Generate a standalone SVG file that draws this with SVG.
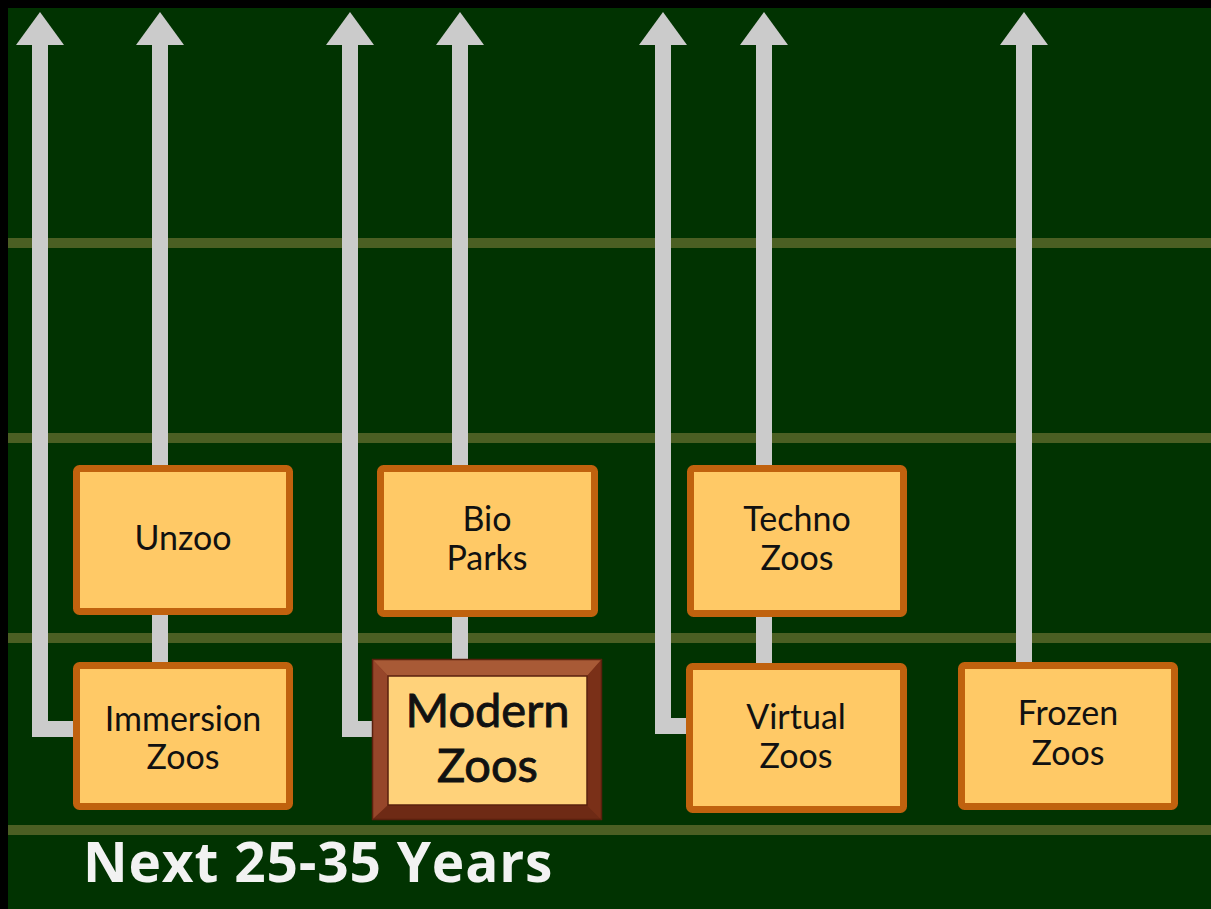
<svg xmlns="http://www.w3.org/2000/svg" width="1211" height="909" viewBox="0 0 1211 909">
  <defs>
    <style>
      .band { fill: #4b5f23; }
      .conn { fill: none; stroke: #cbcbcb; stroke-width: 16; stroke-linejoin: miter; stroke-linecap: butt; }
      .box { fill: #ffc966; stroke: #c0620e; stroke-width: 7; }
      .lbl { font-family: Lato, "Open Sans", "Liberation Sans", sans-serif; font-size: 34px; fill: #111111; text-anchor: middle; }
      .big { font-size: 47px; stroke: #111111; stroke-width: 0.9px; }
      .title { font-family: "Open Sans", "Liberation Sans", sans-serif; font-weight: bold; font-size: 55px; fill: #f2f2f2; letter-spacing: 0.8px; }
    </style>
    <marker id="head" markerUnits="userSpaceOnUse" viewBox="0 0 33 48" markerWidth="33" markerHeight="48" refX="1" refY="24" orient="auto">
      <path d="M0,0 L33,24 L0,48 Z" fill="#cbcbcb"/>
    </marker>
  </defs>

  <rect x="0" y="0" width="1211" height="909" fill="#000000"/>
  <rect x="8" y="8" width="1203" height="901" fill="#013301"/>

  <g id="bands">
    <rect class="band" x="8" y="238" width="1203" height="10"/>
    <rect class="band" x="8" y="433" width="1203" height="10"/>
    <rect class="band" x="8" y="633" width="1203" height="10"/>
    <rect class="band" x="8" y="825" width="1203" height="10"/>
  </g>

  <g id="connectors">
    <path class="conn" d="M76,729 H40 V44" marker-end="url(#head)"/>
    <path class="conn" d="M160,665 V44" marker-end="url(#head)"/>
    <path class="conn" d="M375,729 H350 V44" marker-end="url(#head)"/>
    <path class="conn" d="M460,662 V44" marker-end="url(#head)"/>
    <path class="conn" d="M689,726 H663 V44" marker-end="url(#head)"/>
    <path class="conn" d="M764,666 V44" marker-end="url(#head)"/>
    <path class="conn" d="M1024,665 V44" marker-end="url(#head)"/>
  </g>

  <g id="unzoo">
    <rect class="box" x="76.5" y="468.5" width="213" height="143" rx="3"/>
    <text class="lbl" x="183" y="550">Unzoo</text>
  </g>

  <g id="bio-parks">
    <rect class="box" x="380.5" y="468.5" width="214" height="145" rx="3"/>
    <text class="lbl" x="487" y="531">Bio</text>
    <text class="lbl" x="487" y="570">Parks</text>
  </g>

  <g id="techno-zoos">
    <rect class="box" x="690.5" y="468.5" width="213" height="145" rx="3"/>
    <text class="lbl" x="797" y="531">Techno</text>
    <text class="lbl" x="797" y="570">Zoos</text>
  </g>

  <g id="immersion-zoos">
    <rect class="box" x="76.5" y="665.5" width="213" height="141" rx="3"/>
    <text class="lbl" x="183" y="731">Immersion</text>
    <text class="lbl" x="183" y="769">Zoos</text>
  </g>

  <g id="modern-zoos">
    <rect x="372" y="659" width="230" height="161" fill="#8a3a1f"/>
    <polygon points="372,659 602,659 587,676 388,676" fill="#a85a36"/>
    <polygon points="372,659 388,676 388,805 372,820" fill="#96462a"/>
    <polygon points="602,659 602,820 587,805 587,676" fill="#7a3018"/>
    <polygon points="372,820 602,820 587,805 388,805" fill="#6e2a15"/>
    <rect x="372.5" y="659.5" width="229" height="160" fill="none" stroke="#5a200e" stroke-width="1.5"/>
    <rect x="388" y="676" width="199" height="129" fill="#ffd27a" stroke="#5a200e" stroke-width="1.5"/>
    <text class="lbl big" x="487.5" y="727">Modern</text>
    <text class="lbl big" x="487.5" y="782">Zoos</text>
  </g>

  <g id="virtual-zoos">
    <rect class="box" x="689.5" y="666.5" width="214" height="143" rx="3"/>
    <text class="lbl" x="796" y="729">Virtual</text>
    <text class="lbl" x="796" y="768">Zoos</text>
  </g>

  <g id="frozen-zoos">
    <rect class="box" x="961.5" y="665.5" width="213" height="141" rx="3"/>
    <text class="lbl" x="1068" y="725">Frozen</text>
    <text class="lbl" x="1068" y="765">Zoos</text>
  </g>

  <g id="caption">
    <text class="title" x="83" y="882">Next 25-35 Years</text>
  </g>
</svg>
